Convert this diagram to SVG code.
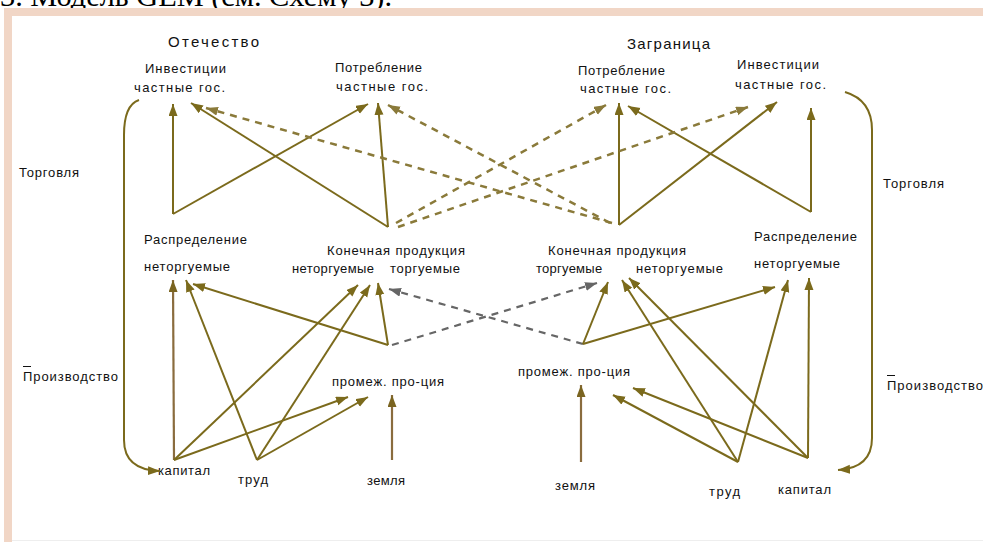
<svg xmlns="http://www.w3.org/2000/svg" width="983" height="542" viewBox="0 0 983 542">
<style>
text{font-family:"Liberation Sans",Arial,sans-serif;font-size:13px;fill:#111}
.big{font-size:15px}
.title{font-family:"Liberation Serif","Times New Roman",serif;font-size:29px;fill:#000}
.s{fill:none;stroke:#7b6a1c;stroke-width:2}
.b{fill:none;stroke:#8a6c3e;stroke-width:2.2}
.d{fill:none;stroke:#8a7a3a;stroke-width:2.5;stroke-dasharray:7 6}
.g{fill:none;stroke:#666666;stroke-width:2.2;stroke-dasharray:7 6}
</style>
<defs>
<marker id="a" markerUnits="userSpaceOnUse" markerWidth="13" markerHeight="10" refX="12" refY="4.5" orient="auto" viewBox="0 0 13 10"><path d="M0,0 L12,4.5 L0,9 z" fill="#7b6a1c"/></marker>
<marker id="ab" markerUnits="userSpaceOnUse" markerWidth="13" markerHeight="10" refX="12" refY="4.5" orient="auto" viewBox="0 0 13 10"><path d="M0,0 L12,4.5 L0,9 z" fill="#7a6420"/></marker>
<marker id="ad" markerUnits="userSpaceOnUse" markerWidth="13" markerHeight="10" refX="12" refY="4.5" orient="auto" viewBox="0 0 13 10"><path d="M0,0 L12,4.5 L0,9 z" fill="#8a7a3a"/></marker>
<marker id="ag" markerUnits="userSpaceOnUse" markerWidth="13" markerHeight="10" refX="12" refY="4.5" orient="auto" viewBox="0 0 13 10"><path d="M0,0 L12,4.5 L0,9 z" fill="#666666"/></marker>
</defs>
<rect width="983" height="542" fill="#fff"/>
<text class="title" x="0" y="6" textLength="392" lengthAdjust="spacingAndGlyphs">3. Модель GEM (см. Схему 3).</text>
<rect x="4" y="8" width="979" height="8" fill="#f1d6c6"/>
<rect x="4" y="8" width="8" height="534" fill="#f1d6c6"/>
<line x1="12" y1="540.5" x2="983" y2="540.5" stroke="#eeeeee" stroke-width="1"/>

<g id="headers">
<text class="big" x="168" y="47" textLength="91">Отечество</text>
<text class="big" x="627" y="49" textLength="83">Заграница</text>
</g>
<g id="invest-home"><text x="145" y="73" textLength="81">Инвестиции</text><text x="134" y="92" textLength="91">частные  гос.</text></g>
<g id="consum-home"><text x="335" y="72" textLength="87">Потребление</text><text x="336" y="91" textLength="92">частные  гос.</text></g>
<g id="consum-abroad"><text x="578" y="75" textLength="87">Потребление</text><text x="580" y="93" textLength="91">частные  гос.</text></g>
<g id="invest-abroad"><text x="737" y="69" textLength="82">Инвестиции</text><text x="735" y="89" textLength="91">частные  гос.</text></g>
<g id="trade-home"><text x="19" y="177" textLength="60">Торговля</text></g>
<g id="trade-abroad"><text x="883" y="188" textLength="61">Торговля</text></g>
<g id="distr-home"><text x="144" y="244" textLength="103">Распределение</text><text x="144" y="271" textLength="86">неторгуемые</text></g>
<g id="final-home"><text x="327" y="255" textLength="138">Конечная продукция</text><text y="273"><tspan x="292" textLength="86">неторгуемые </tspan><tspan x="390" textLength="70">торгуемые</tspan></text></g>
<g id="final-abroad"><text x="548" y="255" textLength="138">Конечная продукция</text><text y="273"><tspan x="536" textLength="70">торгуемые </tspan><tspan x="636" textLength="87">неторгуемые</tspan></text></g>
<g id="distr-abroad"><text x="754" y="241" textLength="103">Распределение</text><text x="754" y="268" textLength="86">неторгуемые</text></g>
<g id="prod-home"><text x="23" y="381" textLength="95">Производство</text><line x1="23" y1="366.5" x2="31" y2="366.5" stroke="#111" stroke-width="1"/></g>
<g id="prod-abroad"><text x="887" y="390" textLength="96">Производство</text><line x1="887" y1="375.5" x2="895" y2="375.5" stroke="#111" stroke-width="1"/></g>
<g id="inter-home"><text x="332" y="386" textLength="112">промеж. про-ция</text></g>
<g id="inter-abroad"><text x="518" y="376" textLength="112">промеж. про-ция</text></g>
<g id="capital-home"><text x="158" y="475" textLength="52">капитал</text></g>
<g id="labour-home"><text x="238" y="484" textLength="30">труд</text></g>
<g id="land-home"><text x="367" y="485" textLength="38">земля</text></g>
<g id="land-abroad"><text x="555" y="490" textLength="40">земля</text></g>
<g id="labour-abroad"><text x="709" y="496" textLength="31">труд</text></g>
<g id="capital-abroad"><text x="778" y="494" textLength="53">капитал</text></g>

<g id="connectors">
<line class="s" x1="173" y1="214" x2="173" y2="104" marker-end="url(#a)"/>
<line class="s" x1="173" y1="214" x2="368" y2="104" marker-end="url(#a)"/>
<line class="s" x1="388" y1="227" x2="378" y2="103" marker-end="url(#a)"/>
<line class="s" x1="388" y1="227" x2="191" y2="103" marker-end="url(#a)"/>
<line class="s" x1="619" y1="225" x2="619" y2="103" marker-end="url(#a)"/>
<line class="s" x1="619" y1="225" x2="777" y2="102" marker-end="url(#a)"/>
<line class="s" x1="811" y1="212" x2="811" y2="108" marker-end="url(#a)"/>
<line class="s" x1="811" y1="212" x2="628" y2="106" marker-end="url(#a)"/>
<line class="d" x1="612" y1="223" x2="206" y2="108" marker-end="url(#ad)"/>
<line class="d" x1="610" y1="223" x2="388" y2="105" marker-end="url(#ad)"/>
<line class="d" x1="396" y1="223" x2="606" y2="105" marker-end="url(#ad)"/>
<line class="d" x1="398" y1="227" x2="748" y2="107" marker-end="url(#ad)"/>
<path class="s" d="M139,100 Q124,105 124,135 L124,440 Q124,470 160,471" marker-end="url(#a)"/>
<path class="s" d="M845,92 Q872,100 872,130 L872,438 Q872,468 838,470" marker-end="url(#a)"/>
<line class="b" x1="174" y1="460" x2="173" y2="280" marker-end="url(#ab)"/>
<line class="s" x1="174" y1="460" x2="358" y2="285" marker-end="url(#a)"/>
<line class="s" x1="174" y1="460" x2="348" y2="397" marker-end="url(#a)"/>
<line class="s" x1="257" y1="460" x2="186" y2="280" marker-end="url(#a)"/>
<line class="s" x1="257" y1="460" x2="370" y2="285" marker-end="url(#a)"/>
<line class="s" x1="257" y1="460" x2="368" y2="397" marker-end="url(#a)"/>
<line class="s" x1="388" y1="345" x2="378" y2="283" marker-end="url(#a)"/>
<line class="s" x1="388" y1="345" x2="193" y2="284" marker-end="url(#a)"/>
<line class="b" x1="392" y1="460" x2="392" y2="395" marker-end="url(#ab)"/>
<line class="g" x1="392" y1="345" x2="597" y2="283" marker-end="url(#ag)"/>
<line class="g" x1="583" y1="344" x2="389" y2="289" marker-end="url(#ag)"/>
<line class="s" x1="583" y1="344" x2="608" y2="282" marker-end="url(#a)"/>
<line class="s" x1="583" y1="344" x2="775" y2="287" marker-end="url(#a)"/>
<line class="b" x1="581" y1="462" x2="581" y2="385" marker-end="url(#ab)"/>
<line class="s" x1="738" y1="462" x2="613" y2="395" marker-end="url(#a)"/>
<line class="s" x1="738" y1="462" x2="622" y2="280" marker-end="url(#a)"/>
<line class="s" x1="738" y1="462" x2="788" y2="280" marker-end="url(#a)"/>
<line class="s" x1="808" y1="458" x2="809" y2="278" marker-end="url(#a)"/>
<line class="s" x1="808" y1="458" x2="633" y2="388" marker-end="url(#a)"/>
<line class="s" x1="808" y1="458" x2="629" y2="278" marker-end="url(#a)"/>
</g>
</svg>
